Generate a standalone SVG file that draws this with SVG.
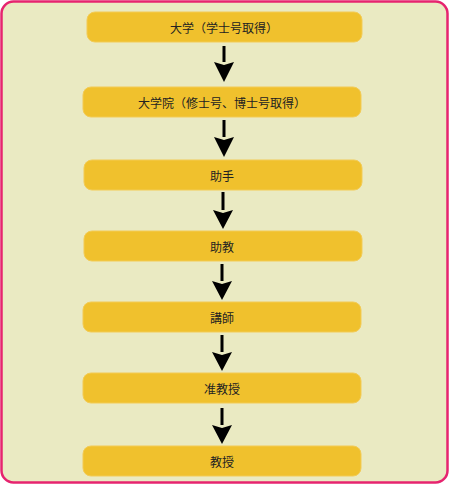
<svg xmlns="http://www.w3.org/2000/svg" width="450" height="485" viewBox="0 0 450 485">
<style>
.box{fill:#f0c12d;stroke:#f3cb55;stroke-width:1}
.t{font-family:"Noto Sans CJK JP","Noto Sans CJK SC",sans-serif;font-size:12px;fill:#222;text-anchor:middle;dominant-baseline:central}
.c{stroke:#000;stroke-width:3;fill:none}
</style>
<defs>
<marker id="ah" viewBox="0 0 20 20" refX="10" refY="20" markerWidth="20" markerHeight="20" markerUnits="userSpaceOnUse" orient="auto-start-reverse">
<path d="M0 0 L10 3 L20 0 L10 20 Z" fill="#000"/>
</marker>
</defs>
<rect x="1.5" y="1.5" width="446" height="481" rx="12" fill="#eaeac2" stroke="#e6246f" stroke-width="2.5"/>
<g id="connectors">
<path class="c" d="M224 46 V62" />
<path d="M214 62 L224 82 L234 62 L224 65 Z" fill="#000"/>
<path class="c" d="M224 120 V137" />
<path d="M214 137 L224 157 L234 137 L224 140 Z" fill="#000"/>
<path class="c" d="M223 192 V210" />
<path d="M213 210 L223 229 L233 210 L223 213 Z" fill="#000"/>
<path class="c" d="M222 264 V281" />
<path d="M212 281 L222 300 L232 281 L222 284 Z" fill="#000"/>
<path class="c" d="M222 335 V352" />
<path d="M212 352 L222 371 L232 352 L222 355 Z" fill="#000"/>
<path class="c" d="M222 408 V425" />
<path d="M212 425 L222 444 L232 425 L222 428 Z" fill="#000"/>
</g>
<g id="n1"><rect class="box" x="87" y="12" width="275" height="30" rx="8"/><text class="t" x="224" y="27">大学（学士号取得）</text></g>
<g id="n2"><rect class="box" x="83" y="87" width="278" height="30" rx="8"/><text class="t" x="222" y="102">大学院（修士号、博士号取得）</text></g>
<g id="n3"><rect class="box" x="84" y="160" width="278" height="30" rx="8"/><text class="t" x="222" y="175">助手</text></g>
<g id="n4"><rect class="box" x="84" y="231" width="278" height="30" rx="8"/><text class="t" x="222" y="246">助教</text></g>
<g id="n5"><rect class="box" x="83" y="302" width="278" height="30" rx="8"/><text class="t" x="222" y="317">講師</text></g>
<g id="n6"><rect class="box" x="83" y="373" width="278" height="30" rx="8"/><text class="t" x="222" y="388">准教授</text></g>
<g id="n7"><rect class="box" x="83" y="446" width="278" height="30" rx="8"/><text class="t" x="222" y="461">教授</text></g>
</svg>
